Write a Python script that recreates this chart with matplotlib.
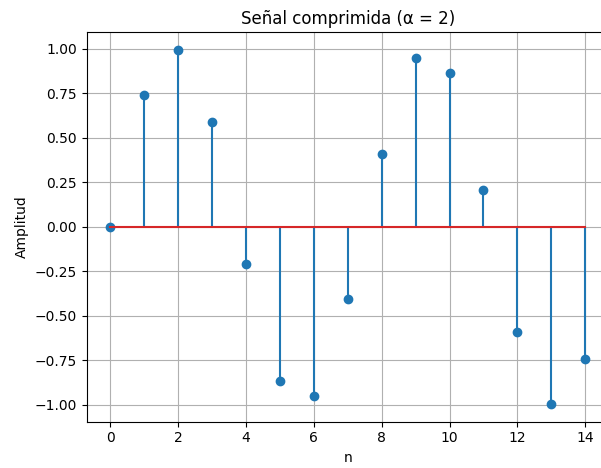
import matplotlib
matplotlib.use("Agg")
import matplotlib.pyplot as plt

# Compressed signal samples
n = [0, 1, 2, 3, 4, 5, 6, 7, 8, 9, 10, 11, 12, 13, 14]
amplitud = [0.0, 0.743, 0.995, 0.588, -0.208, -0.866, -0.951, -0.407,
            0.407, 0.951, 0.866, 0.208, -0.588, -0.995, -0.743]

fig = plt.figure(figsize=(6.01, 4.68), dpi=100)
W, H = 601, 468
ax = fig.add_axes([86.5 / W, (H - 421.7) / H, (609 - 86.5) / W, (421.7 - 32) / H])

ax.stem(n, amplitud, basefmt="C3-")
ax.set_title("Señal comprimida (α = 2)")
ax.set_xlabel("n")
ax.set_ylabel("Amplitud")
ax.grid(True)

fig.savefig("out.png", dpi=100)
